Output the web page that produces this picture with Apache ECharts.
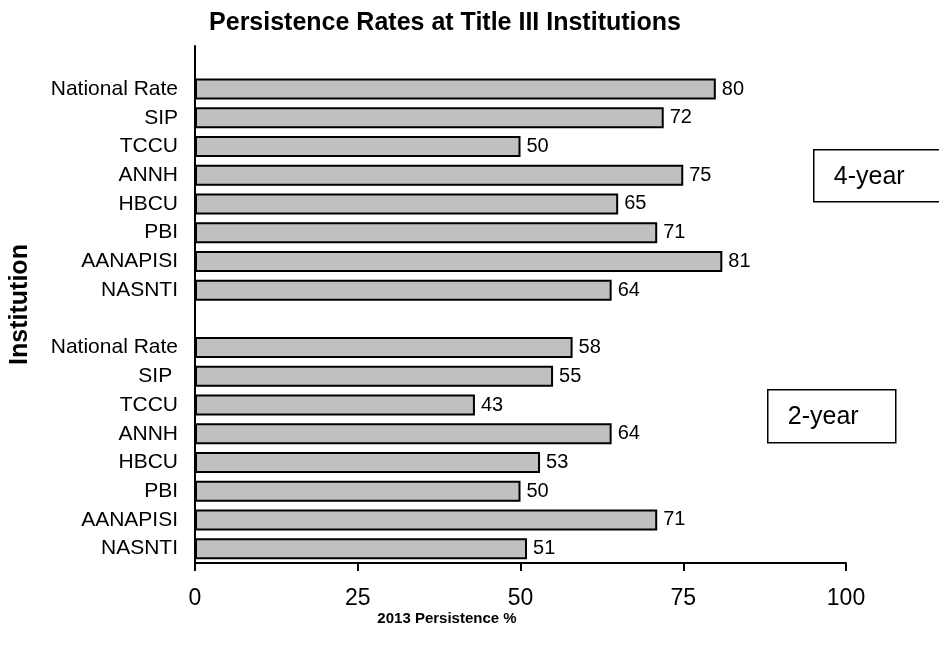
<!DOCTYPE html>
<html>
<head>
<meta charset="utf-8">
<script src="https://cdn.jsdelivr.net/npm/echarts@6/dist/echarts.min.js"></script>
<style>
html, body { margin: 0; padding: 0; background: #fff; }
#main { width: 939px; height: 650px; }
</style>
</head>
<body>
<div id="main"></div>
<script>
// institutions, top to bottom within each group
var fourYearNames = ['National Rate', 'SIP', 'TCCU', 'ANNH', 'HBCU', 'PBI', 'AANAPISI', 'NASNTI'];
var fourYearValues = [80, 72, 50, 75, 65, 71, 81, 64];
var twoYearNames = ['National Rate', 'SIP ', 'TCCU', 'ANNH', 'HBCU', 'PBI', 'AANAPISI', 'NASNTI'];
var twoYearValues = [58, 55, 43, 64, 53, 50, 71, 51];
var xTicks = [0, 25, 50, 75, 100];

// empty slot on top and one between the groups
var categories = [''].concat(fourYearNames, [''], twoYearNames);
var values = ['-'].concat(fourYearValues, ['-'], twoYearValues);

var font = 'Liberation Sans, Arial, sans-serif';
var chart = echarts.init(document.getElementById('main'));

var option = {
    animation: false,
    backgroundColor: '#fff',
    title: [{
        text: 'Persistence Rates at Title III Institutions',
        left: 440,
        top: 6,
        textAlign: 'center',
        textStyle: { fontFamily: font, fontSize: 25, fontWeight: 'bold', color: '#000' }
    }, {
        text: '2013 Persistence %',
        left: 442,
        top: 606,
        textAlign: 'center',
        textStyle: { fontFamily: font, fontSize: 15, fontWeight: 'bold', color: '#000' }
    }],
    grid: { left: 193, right: 93, top: 46, bottom: 87 },
    xAxis: {
        type: 'value',
        min: xTicks[0],
        max: xTicks[xTicks.length - 1],
        interval: 25,
        axisLine: { show: true, lineStyle: { color: '#000', width: 2 } },
        axisTick: { show: true, length: 8, lineStyle: { color: '#000', width: 2 } },
        axisLabel: { fontFamily: font, fontSize: 23, color: '#000', margin: 24 },
        splitLine: { show: false }
    },
    yAxis: {
        type: 'category',
        inverse: true,
        data: categories,
        name: 'Institution',
        nameLocation: 'middle',
        nameRotate: 90,
        nameGap: 162,
        nameTextStyle: { fontFamily: font, fontSize: 25, fontWeight: 'bold', color: '#000' },
        axisLine: { show: true, lineStyle: { color: '#000', width: 2 } },
        axisTick: { show: false },
        axisLabel: { fontFamily: font, fontSize: 21, color: '#000', margin: 17 },
        splitLine: { show: false }
    },
    series: [{
        type: 'bar',
        data: values,
        barWidth: 21,
        itemStyle: { color: '#c0c0c0', borderColor: '#000', borderWidth: 2 },
        label: {
            show: true,
            position: 'right',
            distance: 6,
            fontFamily: font,
            fontSize: 20,
            color: '#000'
        }
    }],
    graphic: [{
        type: 'group',
        left: 813,
        top: 149,
        children: [{
            type: 'rect',
            shape: { x: 0, y: 0, width: 130, height: 52 },
            style: { fill: '#fff', stroke: '#000', lineWidth: 1.5 }
        }, {
            type: 'text',
            x: 20,
            y: 27,
            style: { text: '4-year', fontFamily: font, fontSize: 25, fill: '#000', verticalAlign: 'middle' }
        }]
    }, {
        type: 'group',
        left: 767,
        top: 389,
        children: [{
            type: 'rect',
            shape: { x: 0, y: 0, width: 128, height: 53 },
            style: { fill: '#fff', stroke: '#000', lineWidth: 1.5 }
        }, {
            type: 'text',
            x: 20,
            y: 27,
            style: { text: '2-year', fontFamily: font, fontSize: 25, fill: '#000', verticalAlign: 'middle' }
        }]
    }]
};

chart.setOption(option);
window.addEventListener('resize', function () {
    chart.resize();
});
</script>
</body>
</html>
